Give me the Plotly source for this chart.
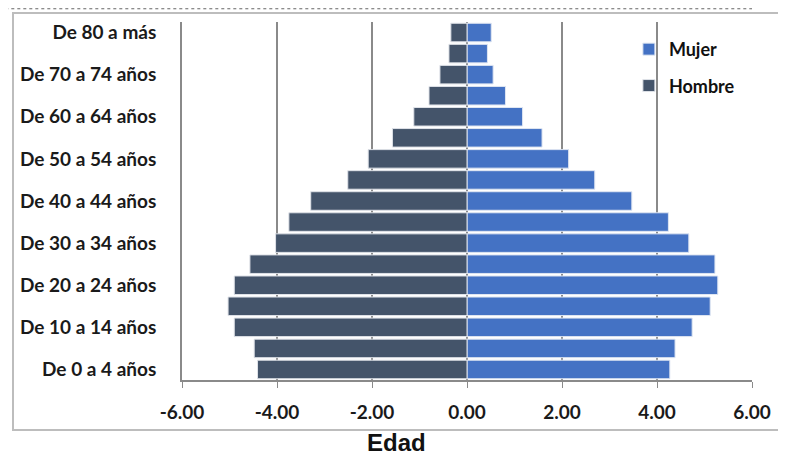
import plotly.graph_objects as go

# Age groups, bottom to top
grupos = ["De 0 a 4 años", "De 5 a 9 años", "De 10 a 14 años", "De 15 a 19 años",
          "De 20 a 24 años", "De 25 a 29 años", "De 30 a 34 años", "De 35 a 39 años",
          "De 40 a 44 años", "De 45 a 49 años", "De 50 a 54 años", "De 55 a 59 años",
          "De 60 a 64 años", "De 65 a 69 años", "De 70 a 74 años", "De 75 a 79 años",
          "De 80 a más"]

mujer = [4.27, 4.38, 4.74, 5.12, 5.28, 5.22, 4.67, 4.24, 3.47, 2.69, 2.14, 1.58,
         1.17, 0.81, 0.55, 0.43, 0.51]
hombre = [-4.41, -4.48, -4.90, -5.03, -4.90, -4.57, -4.03, -3.75, -3.29, -2.51, -2.08,
          -1.57, -1.12, -0.80, -0.57, -0.38, -0.34]

x_ticks = [-6, -4, -2, 0, 2, 4, 6]
y_labels = grupos[::2]

fig = go.Figure()
fig.add_trace(go.Bar(y=grupos, x=mujer, name="Mujer", orientation="h", legendgroup="m",
                     marker=dict(color="#4472C4", line=dict(color="#dfe6f2", width=1))))
fig.add_trace(go.Bar(y=grupos, x=hombre, name="Hombre", orientation="h", legendgroup="h",
                     marker=dict(color="#44546A", line=dict(color="#dfe2e8", width=1))))

# outer chart frame + dotted separator above it
fig.add_shape(type="rect", xref="paper", yref="paper",
              x0=-0.2965, x1=1.1, y0=-0.14, y1=1.025,
              line=dict(color="#bdbdbd", width=2), layer="below")
fig.add_shape(type="line", xref="paper", yref="paper",
              x0=-0.31, x1=1.0, y0=1.037, y1=1.037,
              line=dict(color="#666", width=1, dash="dot"))

# axis title, centred on the whole chart rather than the plot area
fig.add_annotation(text="<b>Edad</b>", xref="paper", yref="paper",
                   x=0.377, y=-0.175, showarrow=False, xanchor="center", yanchor="middle",
                   font=dict(size=24, family="Liberation Sans", color="#111"))

fig.update_layout(
    width=786, height=459,
    barmode="relative", bargap=0.12,
    plot_bgcolor="white", paper_bgcolor="white",
    margin=dict(l=174, r=42, t=14, b=87),
    font=dict(family="Lato", color="#1a1a1a"),
    showlegend=True,
    legend=dict(x=0.784, y=0.975, xanchor="left", yanchor="top",
                bgcolor="rgba(0,0,0,0)", traceorder="grouped",
                font=dict(size=18, family="Lato", weight="bold", color="#111"),
                itemwidth=30, tracegroupgap=10),
    xaxis=dict(range=[-6, 6], tickvals=x_ticks,
               ticktext=[f"{v:.2f}" for v in x_ticks],
               showgrid=True, gridcolor="#8a8a8a", gridwidth=1.8,
               zeroline=False, showline=True, linecolor="#8a8a8a", linewidth=1.8,
               ticks="outside", ticklen=6, tickcolor="#8a8a8a",
               tickfont=dict(size=19, family="Lato", weight="bold"),
               ticklabelstandoff=8),
    yaxis=dict(categoryorder="array", categoryarray=grupos,
               tickvals=y_labels, ticktext=y_labels,
               showgrid=False, showline=True, linecolor="#8a8a8a", linewidth=1.8,
               ticks="", ticklabelstandoff=20,
               tickfont=dict(size=19, family="Lato", weight="bold")),
)

fig.write_html("out.html")
